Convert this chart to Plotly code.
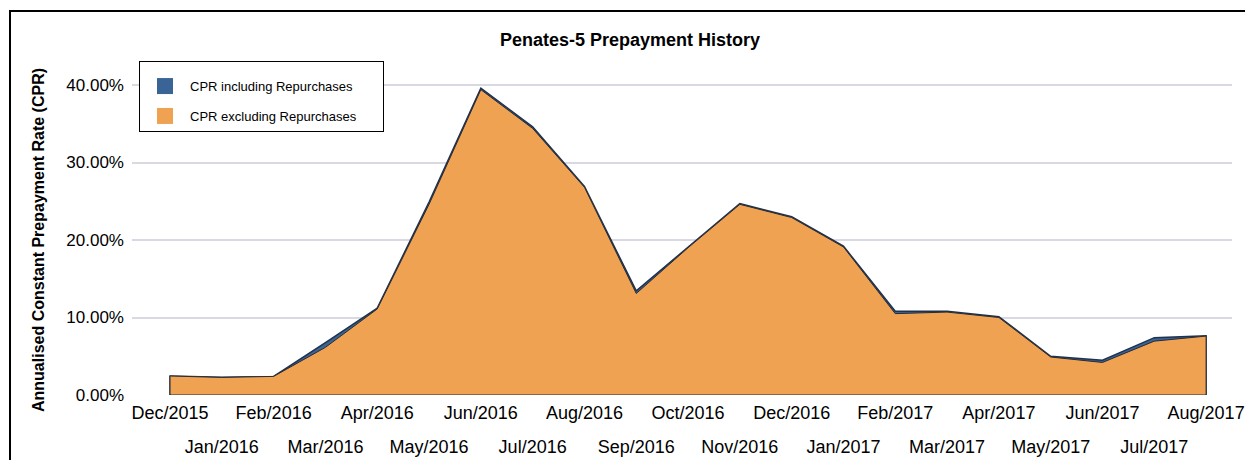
import plotly.graph_objects as go

months = ["Dec/2015", "Jan/2016", "Feb/2016", "Mar/2016", "Apr/2016", "May/2016", "Jun/2016",
          "Jul/2016", "Aug/2016", "Sep/2016", "Oct/2016", "Nov/2016", "Dec/2016", "Jan/2017",
          "Feb/2017", "Mar/2017", "Apr/2017", "May/2017", "Jun/2017", "Jul/2017", "Aug/2017"]
cpr_incl = [2.45, 2.30, 2.40, 6.75, 11.2, 24.9, 39.6, 34.6, 26.9, 13.45, 19.1, 24.7, 23.0, 19.2,
            10.8, 10.8, 10.1, 5.0, 4.5, 7.4, 7.65]
cpr_excl = [2.45, 2.27, 2.40, 6.15, 11.1, 24.6, 39.4, 34.4, 26.8, 13.1, 19.0, 24.6, 22.9, 19.1,
            10.5, 10.7, 10.0, 4.9, 4.2, 6.95, 7.6]
series_names = ["CPR including Repurchases", "CPR excluding Repurchases"]
fill_colors = ["#3A6496", "#EFA251"]
line_colors = ["#1E3350", "#2B2B33"]

idx = list(range(len(months)))
FONT = "Liberation Sans, Arial, sans-serif"

# plot area in pixels
L, R, T, B = 132, 1232, 54, 395
PW, PH = R - L, B - T


def px_x(p):
    return (p - L) / PW


def px_y(p):
    return (B - p) / PH


def closed(vals):
    v = [x / 100 for x in vals]
    xs = [idx[0]] + idx + [idx[-1], idx[0]]
    ys = [0] + v + [0, 0]
    return xs, ys


fig = go.Figure()
for vals, name, fc, lc, lw in zip([cpr_incl, cpr_excl], series_names, fill_colors, line_colors, [1.5, 1]):
    xs, ys = closed(vals)
    fig.add_trace(go.Scatter(x=xs, y=ys, mode="lines", fill="toself", fillcolor=fc,
                             line=dict(color=lc, width=lw), name=name, showlegend=False,
                             hoverinfo="skip"))

# legend entries with square swatches
pad = "\u00a0" * 6
for i, (name, fc) in enumerate(zip(series_names, fill_colors)):
    fig.add_trace(go.Scatter(x=[None], y=[None], mode="markers", name=name + pad,
                             marker=dict(symbol="square", size=20, color=fc),
                             legendgroup=f"g{i}", showlegend=True))

even = [i for i in idx if i % 2 == 0]
odd = [i for i in idx if i % 2 == 1]
xr = [-0.734, 20.5]

fig.update_layout(
    width=1245, height=460,
    margin=dict(l=L, r=1245 - R, t=T, b=460 - B, autoexpand=False),
    paper_bgcolor="white", plot_bgcolor="white",
    font=dict(family=FONT, color="black"),
    title=dict(text="<b>Penates-5 Prepayment History</b>", font=dict(size=18, family=FONT),
               x=px_x(630), xref="paper", xanchor="center",
               y=1 - 40 / 460, yref="container", yanchor="middle", automargin=False),
    xaxis=dict(range=xr, tickvals=even, ticktext=[months[i] for i in even], showgrid=False,
               zeroline=False, showline=False, ticks="", tickfont=dict(size=18),
               ticklabelstandoff=5, automargin=False, ticklabeloverflow="allow"),
    xaxis2=dict(range=xr, overlaying="x", anchor="y", side="bottom", matches="x",
                tickvals=odd, ticktext=[months[i] for i in odd], showgrid=False,
                zeroline=False, showline=False, ticks="", tickfont=dict(size=18),
                ticklabelstandoff=39, automargin=False, ticklabeloverflow="allow"),
    yaxis=dict(range=[0, 0.44], tickvals=[0, 0.1, 0.2, 0.3, 0.4], tickformat=".2%",
               showgrid=True, gridcolor="#D9D9E3", gridwidth=2, zeroline=False,
               showline=False, ticks="", tickfont=dict(size=17), ticklabelstandoff=7,
               automargin=False),
    legend=dict(x=px_x(139), y=px_y(61), xanchor="left", yanchor="top",
                bordercolor="black", borderwidth=1, bgcolor="white",
                font=dict(size=13, family=FONT), tracegroupgap=10, itemwidth=40,
                title=dict(text=" ", font=dict(size=7)), itemsizing="trace"),
    showlegend=True,
    annotations=[dict(text="<b>Annualised Constant Prepayment Rate (CPR)</b>", textangle=-90,
                      xref="paper", yref="paper", x=px_x(38), y=px_y(240),
                      xanchor="center", yanchor="middle", showarrow=False,
                      font=dict(size=16, family=FONT))],
    shapes=[dict(type="rect", xref="paper", yref="paper",
                 x0=px_x(10), x1=px_x(1260), y0=px_y(480), y1=px_y(11),
                 line=dict(color="black", width=2), fillcolor="rgba(0,0,0,0)", layer="below")],
)
# invisible trace so xaxis2 is active
fig.add_trace(go.Scatter(x=[idx[0]], y=[0], xaxis="x2", mode="markers",
                         marker=dict(opacity=0), showlegend=False, hoverinfo="skip"))

fig.write_html("out.html", config={"displayModeBar": False},
               post_script="document.body.style.margin='0';")
